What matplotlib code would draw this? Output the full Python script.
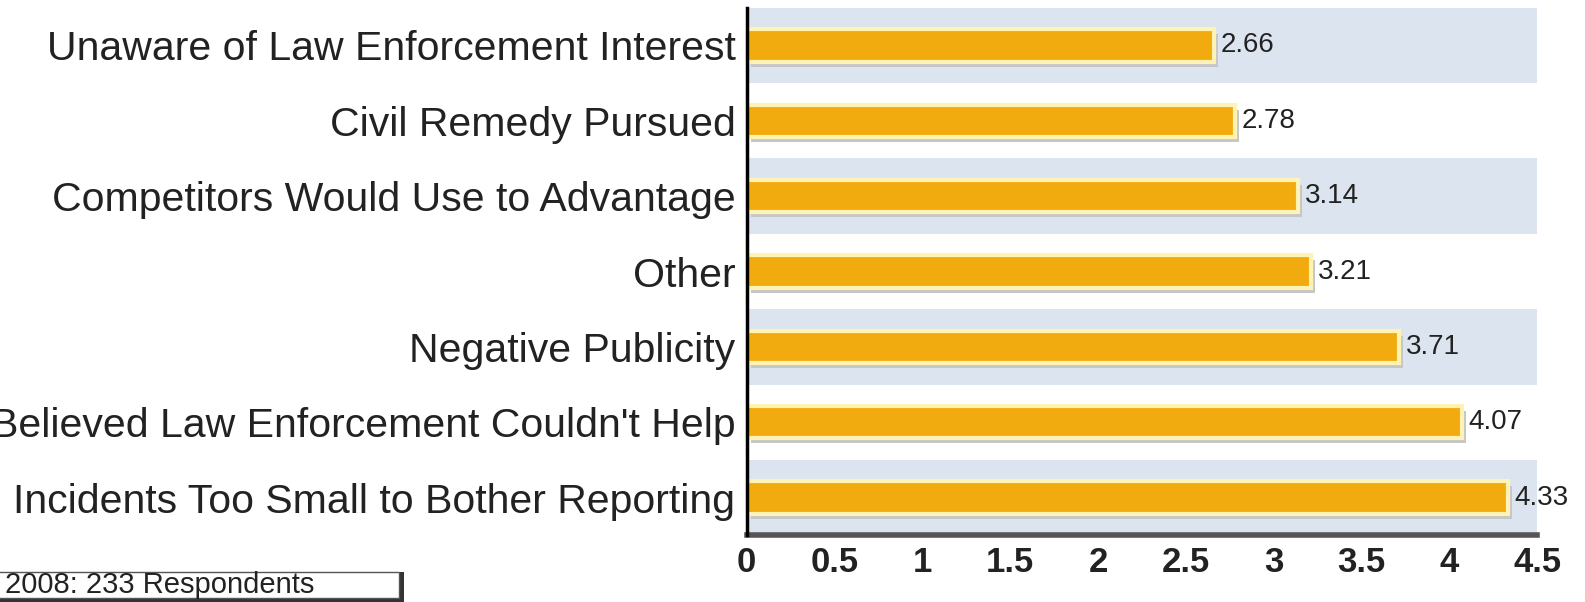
import matplotlib
matplotlib.use("Agg")
import matplotlib.pyplot as plt
import matplotlib.transforms as mtransforms
from matplotlib.patches import Rectangle

plt.rcParams['font.family'] = ['Liberation Sans', 'DejaVu Sans']

categories = [
    "Unaware of Law Enforcement Interest",
    "Civil Remedy Pursued",
    "Competitors Would Use to Advantage",
    "Other",
    "Negative Publicity",
    "Believed Law Enforcement Couldn't Help",
    "Incidents Too Small to Bother Reporting",
]
values = [2.66, 2.78, 3.14, 3.21, 3.71, 4.07, 4.33]
x_ticks = [0, 0.5, 1, 1.5, 2, 2.5, 3, 3.5, 4, 4.5]
x_tick_labels = ["0", "0.5", "1", "1.5", "2", "2.5", "3", "3.5", "4", "4.5"]
footnote = "2008: 233 Respondents"

BAR_COLOR = "#f2ab0e"
BAR_EDGE = "#fff2b5"
SHADOW = "#c6c6c6"
BAND = "#dce5ef"

fig = plt.figure(figsize=(15.85, 6.02), dpi=100)
ax = fig.add_axes([0.471, 0.111, 0.499, 0.876])

ys = list(range(len(categories)))

# alternating row bands
for y in ys:
    if y % 2 == 0:
        ax.axhspan(y - 0.5, y + 0.5, color=BAND, zorder=0, lw=0)

# drop shadow under each bar
shadow_tr = mtransforms.offset_copy(ax.transData, fig=fig, x=4, y=-5, units='dots')
ax.barh(ys, values, height=0.43, color=SHADOW, lw=0, transform=shadow_tr, zorder=1)
ax.barh(ys, values, height=0.43, color=BAR_COLOR, edgecolor=BAR_EDGE, linewidth=3, zorder=2)

for y, v in zip(ys, values):
    ax.annotate(f"{v:.2f}", xy=(v, y), xytext=(5, 0), textcoords='offset points',
                ha='left', va='center', fontsize=20, color='#222222', zorder=3)

ax.set_xlim(0, 4.5)
ax.set_ylim(len(categories) - 0.5, -0.5)
ax.set_xticks(x_ticks)
ax.set_xticklabels(x_tick_labels, fontsize=25, fontweight='bold', color='#222222')
ax.set_yticks(ys)
ax.set_yticklabels(categories, fontsize=29.5, color='#222222')
ax.tick_params(axis='x', length=0, pad=8)
ax.tick_params(axis='y', length=0, pad=8)

for s in ('top', 'right'):
    ax.spines[s].set_visible(False)
ax.spines['left'].set_color('black')
ax.spines['left'].set_linewidth(2.5)
ax.spines['bottom'].set_color('#555555')
ax.spines['bottom'].set_linewidth(4)
ax.spines['left'].set_zorder(4)

# respondents box in the lower left corner
fig.patches.append(Rectangle((-0.01, 0.0), 0.265, 0.05, transform=fig.transFigure,
                             facecolor='#333333', edgecolor='none', zorder=1))
fig.patches.append(Rectangle((-0.01, 0.007), 0.262, 0.043, transform=fig.transFigure,
                             facecolor='white', edgecolor='#555555', lw=1.0, zorder=2))
fig.text(0.003, 0.028, footnote, fontsize=21, va='center', ha='left', color='#222222', zorder=3)

fig.savefig("out.png", dpi=100)
